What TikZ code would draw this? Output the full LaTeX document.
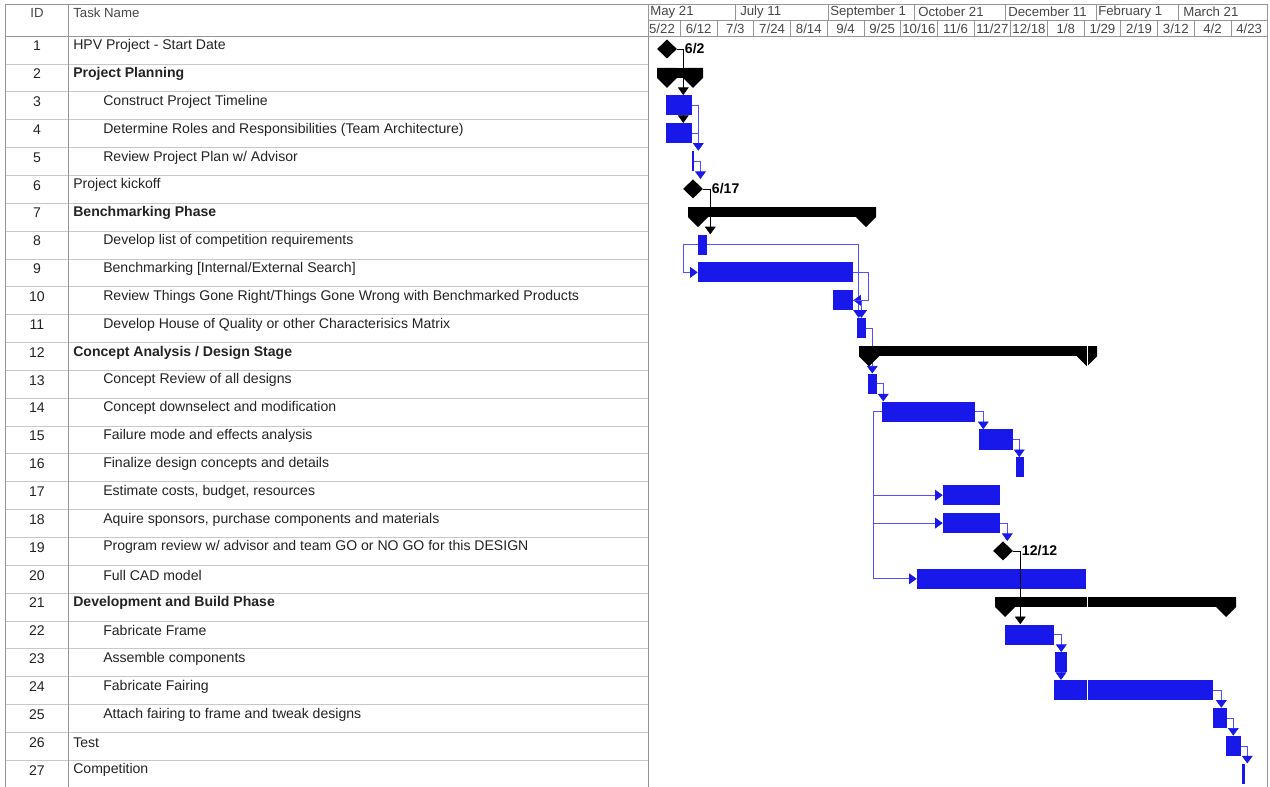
\documentclass[tikz,border=0pt]{standalone}
\usepackage{fontspec}
\setmainfont{Liberation Sans}
\usetikzlibrary{arrows.meta,shapes.geometric}
\definecolor{gblue}{RGB}{24,24,235}
\definecolor{lblue}{RGB}{80,80,255}
\definecolor{rl}{RGB}{200,200,200}
\definecolor{fr}{RGB}{150,150,150}
\definecolor{tx}{RGB}{35,35,35}
\definecolor{hx}{RGB}{70,70,70}
\tikzset{tk/.append style={fill=gblue, inner sep=0pt, minimum height=0.5cm}}
\tikzset{sm/.append style={fill=black, inner sep=0pt, minimum height=0.25cm}}
\tikzset{mst/.append style={diamond, fill=black, inner sep=0pt, minimum width=0.5cm, minimum height=0.48cm}}
\tikzset{lk/.append style={lblue, line width=0.5pt, -{Triangle[width=0.27cm,length=0.19cm,color=gblue]}}}
\tikzset{lnk/.append style={lblue, line width=0.5pt}}
\tikzset{bk/.append style={black, line width=0.5pt, -{Triangle[width=0.27cm,length=0.19cm]}}}
\tikzset{tn/.append style={anchor=west, inner sep=0pt, text=tx, font=\fontsize{10}{12}\selectfont}}
\tikzset{tb/.append style={tn, font=\fontsize{10}{12}\selectfont\bfseries}}
\tikzset{idt/.append style={inner sep=0pt, text=tx, font=\fontsize{10}{12}\selectfont}}
\tikzset{hd/.append style={inner sep=0pt, text=hx, font=\fontsize{9.4}{11}\selectfont}}
\tikzset{mlb/.append style={anchor=west, inner sep=1pt, font=\fontsize{10}{12}\selectfont\bfseries}}
\tikzset{sumcap/.pic={\fill (-10,0) -- (10,0) -- (10,10) -- (0,20) -- (-10,10) -- cycle;}}

\begin{document}
\begin{tikzpicture}[x=0.025cm, y=-0.025cm]
                \useasboundingbox (0,0) rectangle (1270,787);
                % frame and rules
                \foreach \r in {63.85,91.7,119.55,147.4,175.25,203.1,230.95,258.8,286.65,314.5,342.35,370.2,398.05,425.9,453.75,481.6,509.45,537.3,565.15,593,620.85,648.7,676.55,704.4,732.25,760.1}
                    \draw[rl] (5,\r) -- (648,\r);
                \draw[fr] (5,4) -- (1267,4);
                \draw[fr] (5,36) -- (1267,36);
                \draw[fr] (648,20.5) -- (1267,20.5);
                \draw[fr] (5,4) -- (5,787);
                \draw[fr] (68,4) -- (68,787);
                \draw[fr] (648,4) -- (648,787);
                \draw[fr] (1267,4) -- (1267,787);
                \foreach \x in {735,828,914,1005,1096,1178}
                    \draw[fr] (\x,4) -- (\x,20.5);
                \foreach \x in {680.3,717,753.7,790.4,827.1,863.8,900.5,937.2,973.9,1010.6,1047.3,1084,1120.7,1157.4,1194.1,1230.8}
                    \draw[fr] (\x,20.5) -- (\x,36);
                % header
                \node[hd] (hid) at (37,13) {ID};
                \node[hd,anchor=west] (hnm) at (73,13) {Task Name};
                \node[hd,anchor=west] (m1h) at (650,12) {May 21};
                \node[hd,anchor=west] (m2h) at (740,12) {July 11};
                \node[hd,anchor=west] (m3h) at (830,12) {September 1};
                \node[hd,anchor=west] (m4h) at (918,12) {October 21};
                \node[hd,anchor=west] (m5h) at (1008,12) {December 11};
                \node[hd,anchor=west] (m6h) at (1098,12) {February 1};
                \node[hd,anchor=west] (m7h) at (1183,12) {March 21};
                \node[hd] (w1) at (662,28.5) {5/22};
                \node[hd] (w2) at (698.7,28.5) {6/12};
                \node[hd] (w3) at (735.4,28.5) {7/3};
                \node[hd] (w4) at (772.1,28.5) {7/24};
                \node[hd] (w5) at (808.8,28.5) {8/14};
                \node[hd] (w6) at (845.5,28.5) {9/4};
                \node[hd] (w7) at (882.2,28.5) {9/25};
                \node[hd] (w8) at (918.9,28.5) {10/16};
                \node[hd] (w9) at (955.6,28.5) {11/6};
                \node[hd] (w10) at (992.3,28.5) {11/27};
                \node[hd] (w11) at (1029,28.5) {12/18};
                \node[hd] (w12) at (1065.7,28.5) {1/8};
                \node[hd] (w13) at (1102.4,28.5) {1/29};
                \node[hd] (w14) at (1139.1,28.5) {2/19};
                \node[hd] (w15) at (1175.8,28.5) {3/12};
                \node[hd] (w16) at (1212.5,28.5) {4/2};
                \node[hd] (w17) at (1249.2,28.5) {4/23};
                % task table
                \node[idt] (i1) at (37,46) {1};
                \node[idt] (i2) at (37,73.9) {2};
                \node[idt] (i3) at (37,101.7) {3};
                \node[idt] (i4) at (37,129.6) {4};
                \node[idt] (i5) at (37,157.4) {5};
                \node[idt] (i6) at (37,185.3) {6};
                \node[idt] (i7) at (37,213.1) {7};
                \node[idt] (i8) at (37,241) {8};
                \node[idt] (i9) at (37,268.8) {9};
                \node[idt] (i10) at (37,296.7) {10};
                \node[idt] (i11) at (37,324.5) {11};
                \node[idt] (i12) at (37,352.4) {12};
                \node[idt] (i13) at (37,380.2) {13};
                \node[idt] (i14) at (37,408.1) {14};
                \node[idt] (i15) at (37,435.9) {15};
                \node[idt] (i16) at (37,463.8) {16};
                \node[idt] (i17) at (37,491.6) {17};
                \node[idt] (i18) at (37,519.5) {18};
                \node[idt] (i19) at (37,547.3) {19};
                \node[idt] (i20) at (37,575.2) {20};
                \node[idt] (i21) at (37,603) {21};
                \node[idt] (i22) at (37,630.9) {22};
                \node[idt] (i23) at (37,658.7) {23};
                \node[idt] (i24) at (37,686.6) {24};
                \node[idt] (i25) at (37,714.4) {25};
                \node[idt] (i26) at (37,742.3) {26};
                \node[idt] (i27) at (37,770.1) {27};
                \node[tn] (n1) at (73,46) {HPV Project - Start Date};
                \node[tb] (n2) at (73,73.9) {Project Planning};
                \node[tn] (n3) at (103,101.7) {Construct Project Timeline};
                \node[tn] (n4) at (103,129.6) {Determine Roles and Responsibilities (Team Architecture)};
                \node[tn] (n5) at (103,157.4) {Review Project Plan w/ Advisor};
                \node[tn] (n6) at (73,185.3) {Project kickoff};
                \node[tb] (n7) at (73,213.1) {Benchmarking Phase};
                \node[tn] (n8) at (103,241) {Develop list of competition requirements};
                \node[tn] (n9) at (103,268.8) {Benchmarking [Internal/External Search]};
                \node[tn] (n10) at (103,296.7) {Review Things Gone Right/Things Gone Wrong with Benchmarked Products};
                \node[tn] (n11) at (103,324.5) {Develop House of Quality or other Characterisics Matrix};
                \node[tb] (n12) at (73,352.4) {Concept Analysis / Design Stage};
                \node[tn] (n13) at (103,380.2) {Concept Review of all designs};
                \node[tn] (n14) at (103,408.1) {Concept downselect and modification};
                \node[tn] (n15) at (103,435.9) {Failure mode and effects analysis};
                \node[tn] (n16) at (103,463.8) {Finalize design concepts and details};
                \node[tn] (n17) at (103,491.6) {Estimate costs, budget, resources};
                \node[tn] (n18) at (103,519.5) {Aquire sponsors, purchase components and materials};
                \node[tn] (n19) at (103,547.3) {Program review w/ advisor and team GO or NO GO for this DESIGN};
                \node[tn] (n20) at (103,575.2) {Full CAD model};
                \node[tb] (n21) at (73,603) {Development and Build Phase};
                \node[tn] (n22) at (103,630.9) {Fabricate Frame};
                \node[tn] (n23) at (103,658.7) {Assemble components};
                \node[tn] (n24) at (103,686.6) {Fabricate Fairing};
                \node[tn] (n25) at (103,714.4) {Attach fairing to frame and tweak designs};
                \node[tn] (n26) at (73,742.3) {Test};
                \node[tn] (n27) at (73,770.1) {Competition};
                % bars
                \node[tk,minimum width=0.65cm] (b3) at (679,105.3) {};
                \node[tk,minimum width=0.65cm] (b4) at (679,133.2) {};
                \node[tk,minimum width=0.06cm] (b5) at (693,161) {};
                \node[tk,minimum width=0.225cm] (b8) at (702.5,244.6) {};
                \node[tk,minimum width=3.875cm] (b9) at (775.5,272.4) {};
                \node[tk,minimum width=0.5cm] (b10) at (843,300.3) {};
                \node[tk,minimum width=0.225cm] (b11) at (861.5,328.1) {};
                \node[tk,minimum width=0.225cm] (b13) at (872.5,383.8) {};
                \node[tk,minimum width=2.325cm] (b14) at (928.5,411.7) {};
                \node[tk,minimum width=0.85cm] (b15) at (996,439.5) {};
                \node[tk,minimum width=0.2cm] (b16) at (1020,467.4) {};
                \node[tk,minimum width=1.425cm] (b17) at (971.5,495.2) {};
                \node[tk,minimum width=1.425cm] (b18) at (971.5,523.1) {};
                \node[tk,minimum width=4.225cm] (b20) at (1001.5,578.8) {};
                \node[tk,minimum width=1.225cm] (b22) at (1029.5,634.5) {};
                \node[tk,minimum width=0.3cm] (b23) at (1061,662.3) {};
                \node[tk,minimum width=3.975cm] (b24) at (1133.5,690.2) {};
                \node[tk,minimum width=0.35cm] (b25) at (1220,718) {};
                \node[tk,minimum width=0.375cm] (b26) at (1233.5,745.9) {};
                \node[tk,minimum width=0.075cm] (b27) at (1243.5,773.7) {};
                \node[mst] (m1) at (667,49) {};
                \node[mst] (m6) at (693,188.9) {};
                \node[mst] (m19) at (1003,550.9) {};
                % links
                \draw[bk] (m1.east) -- ++(6,0) coordinate (j0) -- (j0 |- b3.north);
                \draw[bk] (j0 |- b3.south) -- (j0 |- b4.north);
                \draw[bk] (m6.east) -- ++(7,0) coordinate (j10) -- (j10 |- b8.north);
                \draw[bk] (m19.east) -- ++(7,0) coordinate (j11) -- (j11 |- b22.north);
                \node[mlb] (d1) at (j0) {6/2};
                \node[mlb] (d6) at (j10) {6/17};
                \node[mlb] (d19) at (j11) {12/12};
                \draw[lk] (b3.east) -- ++(6,0) coordinate (j1) -- (j1 |- b5.north);
                \draw[lnk] (b4.east) -- (j1 |- b4.east);
                \draw[lk] (b5.east) -- ++(6,0) coordinate (j2) -- (j2 |- m6.north);
                \draw[lk] (b8.west) -- ++(-14,0) |- (b9.west);
                \draw[lk] (b8.east) -| ([xshift=0.05cm]b11.north west);
                \draw[lk] (b9.east) -- ++(15,0) |- (b10.east);
                \draw[lk] (b10.east) -| (b11.north);
                \draw[lk] (b11.east) -- ++(6,0) coordinate (j3) -- (j3 |- b13.north);
                \draw[lk] (b13.east) -- ++(6,0) coordinate (j4) -- (j4 |- b14.north);
                \draw[lk] (b14.east) -- ++(8,0) coordinate (j5) -- (j5 |- b15.north);
                \draw[lk] (b15.east) -- ++(6,0) coordinate (j6) -- (j6 |- b16.north);
                \draw[lk] (b14.west) -- ++(-8,0) coordinate (j7) |- (b17.west);
                \draw[lk] (j7) |- (b18.west);
                \draw[lk] (j7) |- (b20.west);
                \draw[lk] (b18.east) -- ++(7,0) coordinate (j8) -- (j8 |- m19.north);
                \draw[lk] (b22.east) -- ++(7,0) coordinate (j9) -- (j9 |- b23.north);
                \draw[lk] (b23.south) -- (b23.south |- b24.north);
                \draw[lk] (b24.east) -- ++(8,0) coordinate (j12) -- (j12 |- b25.north);
                \draw[lk] (b25.east) -- ++(6,0) coordinate (j13) -- (j13 |- b26.north);
                \draw[lk] (b26.east) -- ++(6,0) coordinate (j14) -- (j14 |- b27.north);
                % summary bars
                \node[sm,minimum width=1.15cm] (s2) at (680,72.85) {};
                \pic at (667,67.85) {sumcap};
                \pic at (693,67.85) {sumcap};
                \node[sm,minimum width=4.7cm] (s7) at (782,212.1) {};
                \pic at (698,207.1) {sumcap};
                \pic at (866,207.1) {sumcap};
                \node[sm,minimum width=5.95cm] (s12) at (978,351.35) {};
                \pic at (869,346.35) {sumcap};
                \pic at (1087,346.35) {sumcap};
                \node[sm,minimum width=6.025cm] (s21) at (1115.5,602) {};
                \pic at (1005,597) {sumcap};
                \pic at (1226,597) {sumcap};
                \draw[white, line width=0.7pt] (1087,340) -- (1087,705);
            \end{tikzpicture}
\end{document}
